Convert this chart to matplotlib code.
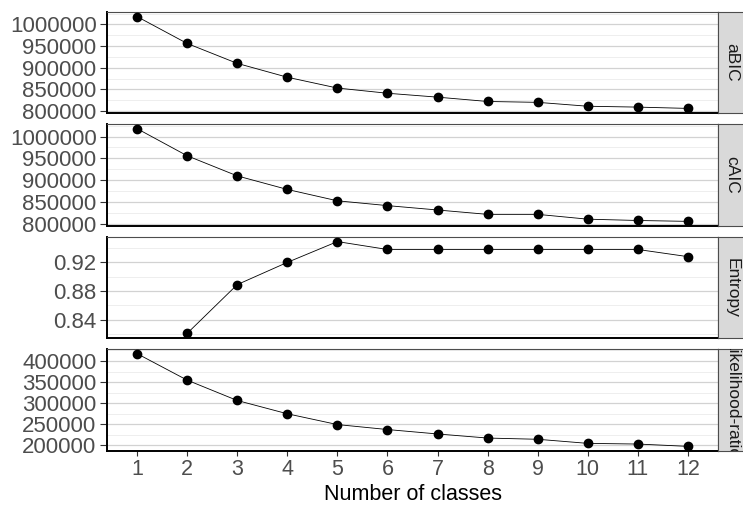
import numpy as np
import matplotlib
matplotlib.use("Agg")
import matplotlib.pyplot as plt
from matplotlib.ticker import MultipleLocator, FormatStrFormatter, FuncFormatter

plt.rcParams['font.family'] = ['Liberation Sans', 'DejaVu Sans']

# data
classes = [1, 2, 3, 4, 5, 6, 7, 8, 9, 10, 11, 12]
abic = [1018000, 956000, 910000, 878000, 853000, 841000, 832000, 822000, 820000, 811000, 809000, 806000]
caic = [1018000, 956000, 910000, 879000, 853000, 842000, 832000, 822000, 822000, 811000, 808000, 806000]
entropy = [np.nan, 0.821, 0.889, 0.920, 0.949, 0.938, 0.938, 0.938, 0.938, 0.938, 0.938, 0.928]
lr = [417500, 354700, 306400, 274900, 249300, 237500, 227000, 217300, 214400, 204700, 203100, 197600]

panels = [("aBIC", abic, 50000, "int"),
          ("cAIC", caic, 50000, "int"),
          ("Entropy", entropy, 0.04, "dec"),
          ("Likelihood-ratio", lr, 50000, "int")]

W, H = 743, 507
fig = plt.figure(figsize=(W / 100, H / 100), dpi=100)

# panel boxes in pixels (top, bottom)
rows = [(12, 113), (124, 226), (237, 338), (349, 451)]
left_px, right_px = 107, 718
strip_w = 28

def box(x0, x1, y0, y1):
    return [x0 / W, 1 - y1 / H, (x1 - x0) / W, (y1 - y0) / H]

for i, ((name, vals, step, fmt), (top, bot)) in enumerate(zip(panels, rows)):
    ax = fig.add_axes(box(left_px, right_px, top, bot))
    v = np.array(vals, dtype=float)
    lo, hi = np.nanmin(v), np.nanmax(v)
    pad = 0.05 * (hi - lo)
    ax.set_ylim(lo - pad, hi + pad)
    ax.set_xlim(0.4, 12.6)

    ax.plot(classes, v, color="black", lw=0.6, zorder=3)
    ax.plot(classes, v, "o", color="black", ms=6, zorder=4)

    ax.yaxis.set_major_locator(MultipleLocator(step))
    ax.yaxis.set_minor_locator(MultipleLocator(step / 2))
    if fmt == "dec":
        ax.yaxis.set_major_formatter(FormatStrFormatter("%.2f"))
    else:
        ax.yaxis.set_major_formatter(FuncFormatter(lambda y, p: f"{y:.0f}"))
    ax.grid(axis="y", which="major", color="#D2D2D2", lw=0.9)
    ax.grid(axis="y", which="minor", color="#EBEBEB", lw=0.6)
    ax.set_axisbelow(True)

    for s in ("top", "right"):
        ax.spines[s].set_color("#4D4D4D")
        ax.spines[s].set_linewidth(0.8)
    for s in ("left", "bottom"):
        ax.spines[s].set_color("black")
        ax.spines[s].set_linewidth(1.4)

    ax.tick_params(axis="y", which="major", labelsize=16, labelcolor="#4D4D4D",
                   color="#333333", length=5, width=0.8, pad=2.5)
    ax.tick_params(axis="y", which="minor", length=0)
    ax.set_xticks(classes)
    if i == len(panels) - 1:
        ax.tick_params(axis="x", labelsize=15.5, labelcolor="#4D4D4D",
                       color="#333333", length=3.5, width=0.8, pad=2)
        ax.set_xlabel("Number of classes", fontsize=15.5, color="black", labelpad=3)
    else:
        ax.tick_params(axis="x", length=0, labelbottom=False)

    # facet strip on the right
    sx = fig.add_axes(box(right_px, right_px + strip_w, top, bot))
    sx.set_facecolor("#D9D9D9")
    sx.set_xticks([])
    sx.set_yticks([])
    for s in sx.spines.values():
        s.set_color("#4D4D4D")
        s.set_linewidth(0.8)
    sx.text(0.5, 0.5, name, rotation=-90, ha="center", va="center",
            fontsize=12.5, color="#1A1A1A", transform=sx.transAxes, clip_on=True)

fig.savefig("out.png", dpi=100)
